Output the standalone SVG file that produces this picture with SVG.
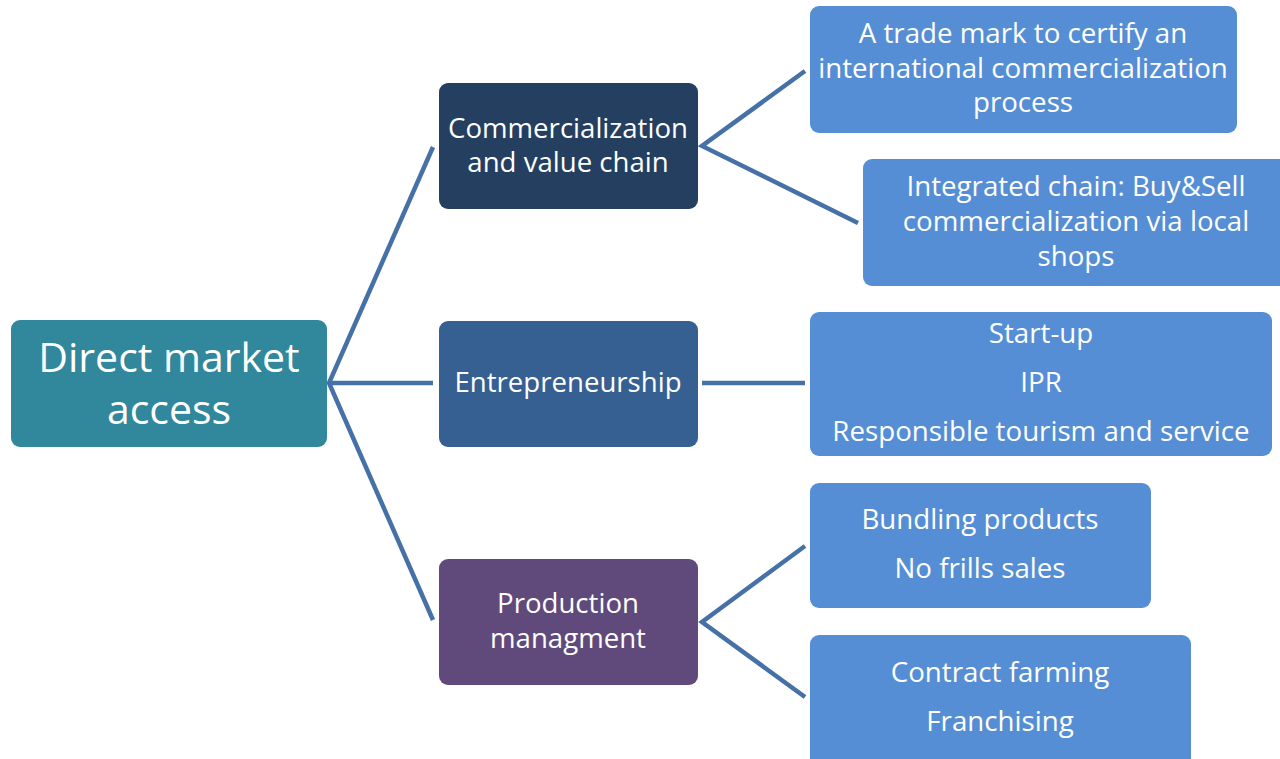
<svg xmlns="http://www.w3.org/2000/svg" width="1280" height="759" viewBox="0 0 1280 759">
<style>
.t{font-family:"Open Sans","Noto Sans","Liberation Sans",sans-serif;fill:#ffffff;text-anchor:middle}
.m{font-size:27.6px}
.l{font-size:27.7px}
.c{stroke:#4671A6;stroke-width:4.5;fill:none;stroke-linecap:butt}
</style>
<rect width="1280" height="759" fill="#ffffff"/>
<g id="connectors">
<path class="c" d="M433,147 L329,383 L433,620 M329,383 L433,383"/>
<path class="c" d="M805,71 L702,146 L858,223"/>
<path class="c" d="M702,383 L805,383"/>
<path class="c" d="M805,546 L702,622 L805,697"/>
</g>
<g id="root">
<rect x="11" y="320" width="316" height="127" rx="9" fill="#31879B"/>
<text class="t" x="169" y="372" font-size="41">Direct market</text>
<text class="t" x="169" y="424" font-size="41">access</text>
</g>
<g id="commercialization">
<rect x="439" y="83" width="259" height="126" rx="9" fill="#243F60"/>
<text class="t m" x="568" y="138">Commercialization</text>
<text class="t m" x="568" y="172">and value chain</text>
</g>
<g id="entrepreneurship">
<rect x="439" y="321" width="259" height="126" rx="9" fill="#366092"/>
<text class="t m" x="568" y="392">Entrepreneurship</text>
</g>
<g id="production">
<rect x="439" y="559" width="259" height="126" rx="9" fill="#604A7B"/>
<text class="t m" x="568" y="613">Production</text>
<text class="t m" x="568" y="648">managment</text>
</g>
<g id="trademark">
<rect x="810" y="6" width="427" height="127" rx="9" fill="#558ED5"/>
<text class="t l" x="1023" y="43">A trade mark to certify an</text>
<text class="t l" x="1023" y="78">international commercialization</text>
<text class="t l" x="1023" y="112">process</text>
</g>
<g id="integrated">
<rect x="863" y="159" width="427" height="127" rx="9" fill="#558ED5"/>
<text class="t l" x="1076" y="196">Integrated chain: Buy&amp;Sell</text>
<text class="t l" x="1076" y="231">commercialization via local</text>
<text class="t l" x="1076" y="266">shops</text>
</g>
<g id="startup">
<rect x="810" y="312" width="462" height="144" rx="9" fill="#558ED5"/>
<text class="t l" x="1041" y="343">Start-up</text>
<text class="t l" x="1041" y="392">IPR</text>
<text class="t l" x="1041" y="441">Responsible tourism and service</text>
</g>
<g id="bundling">
<rect x="810" y="483" width="341" height="125" rx="9" fill="#558ED5"/>
<text class="t l" x="980" y="529">Bundling products</text>
<text class="t l" x="980" y="578">No frills sales</text>
</g>
<g id="contract">
<rect x="810" y="635" width="381" height="134" rx="9" fill="#558ED5"/>
<text class="t l" x="1000" y="682">Contract farming</text>
<text class="t l" x="1000" y="731">Franchising</text>
</g>
</svg>
